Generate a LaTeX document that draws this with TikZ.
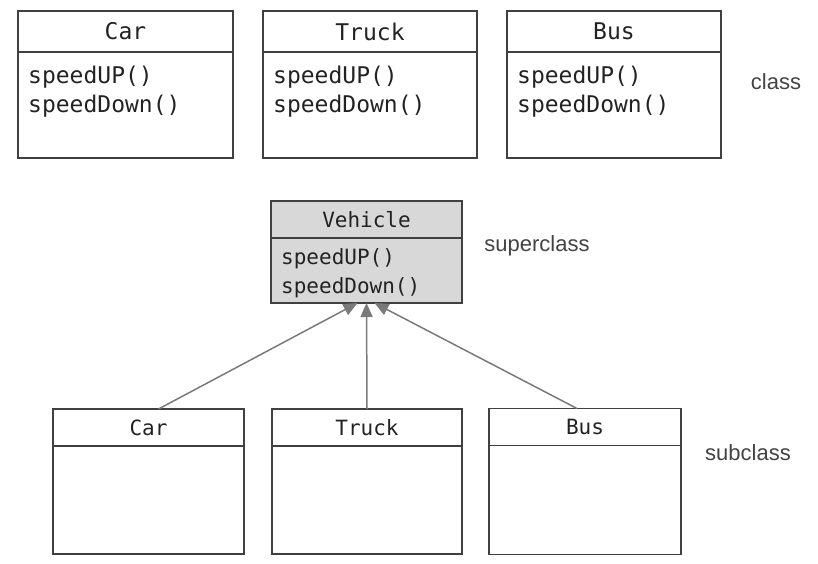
\documentclass[tikz,border=0pt]{standalone}
\usepackage{fontspec}
\setmainfont{Liberation Sans}
\setmonofont{DejaVu Sans Mono}
\usetikzlibrary{arrows.meta}
\definecolor{linec}{HTML}{404040}
\definecolor{txtc}{HTML}{222222}
\definecolor{arrc}{HTML}{7A7A7A}
\definecolor{vehfill}{HTML}{D8D8D8}
\tikzset{
  boxpart/.style={draw=linec, line width=1.4pt, inner sep=0pt, outer sep=0pt},
  bigmono/.style={font=\fontsize{23}{29}\selectfont\ttfamily, text=txtc},
  smallmono/.style={font=\fontsize{21}{29}\selectfont\ttfamily, text=txtc},
  methods/.style={align=left, inner sep=0pt, anchor=north west},
  label/.style={font=\fontsize{22}{26}\selectfont, text=txtc!85},
  inh/.style={draw=arrc, line width=1.5pt, -{Triangle[length=14pt,width=12pt]}}
}
\begin{document}
\begin{tikzpicture}[x=1pt,y=-1pt]
\useasboundingbox (0,0) rectangle (818,564);
% top row
\node[boxpart, bigmono, minimum width=215pt, minimum height=41pt] (carTH) at (125.5,31.5) {Car};
\node[boxpart, minimum width=215pt, minimum height=106pt, anchor=north] (carTB) at (carTH.south) {};
\node[methods, bigmono] (carTM) at ([shift={(10pt,-14pt)}]carTB.north west) {speedUP()\\speedDown()};

\node[boxpart, bigmono, minimum width=214pt, minimum height=41pt] (truckTH) at (370,31.5) {Truck};
\node[boxpart, minimum width=214pt, minimum height=106pt, anchor=north] (truckTB) at (truckTH.south) {};
\node[methods, bigmono] (truckTM) at ([shift={(10pt,-14pt)}]truckTB.north west) {speedUP()\\speedDown()};

\node[boxpart, bigmono, minimum width=214pt, minimum height=41pt] (busTH) at (614,31.5) {Bus};
\node[boxpart, minimum width=214pt, minimum height=106pt, anchor=north] (busTB) at (busTH.south) {};
\node[methods, bigmono] (busTM) at ([shift={(10pt,-14pt)}]busTB.north west) {speedUP()\\speedDown()};

\node[label] (classL) at (776,82) {class};

% superclass
\node[boxpart, fill=vehfill, smallmono, minimum width=191pt, minimum height=37pt] (vehH) at (366.5,219.5) {Vehicle};
\node[boxpart, fill=vehfill, minimum width=191pt, minimum height=65pt, anchor=north] (vehB) at (vehH.south) {};
\node[methods, smallmono] (vehM) at ([shift={(10pt,-10pt)}]vehB.north west) {speedUP()\\speedDown()};
\node[label] (superL) at (537,246) {superclass};

% subclasses
\node[boxpart, smallmono, minimum width=191pt, minimum height=37pt] (carH) at (148.5,427.5) {Car};
\node[boxpart, minimum width=191pt, minimum height=108pt, anchor=north] (carB) at (carH.south) {};

\node[boxpart, smallmono, minimum width=190pt, minimum height=37pt] (truckH) at (367,427.5) {Truck};
\node[boxpart, minimum width=190pt, minimum height=108pt, anchor=north] (truckB) at (truckH.south) {};

\node[boxpart, smallmono, minimum width=192pt, minimum height=37pt] (busH) at (585,427) {Bus};
\node[boxpart, minimum width=192pt, minimum height=109pt, anchor=north] (busB) at (busH.south) {};

\node[label] (subL) at (748,453) {subclass};

% inheritance arrows
\draw[inh] ([xshift=10pt]carH.north) -- ([xshift=-9pt]vehB.south);
\draw[inh] (truckH.north) -- (vehB.south);
\draw[inh] ([xshift=-8pt]busH.north) -- ([xshift=8pt]vehB.south);
\end{tikzpicture}
\end{document}
